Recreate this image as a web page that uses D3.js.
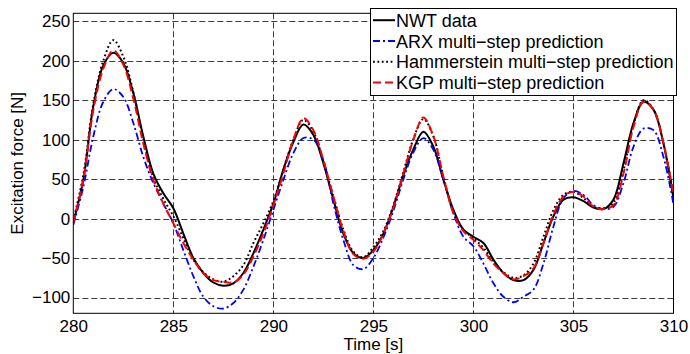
<!DOCTYPE html>
<html>
<head>
<meta charset="utf-8">
<script src="https://cdn.jsdelivr.net/npm/d3@7"></script>
<style>
  body { margin: 0; background: #fff; }
  #graph { width: 690px; height: 354px; }
  text { font-family: "Liberation Sans", Arial, sans-serif; fill: #000; }
</style>
</head>
<body>
<div id="graph"></div>
<script>
// tiempo [s], muestras cada 0.5 s
var time = [280, 280.5, 281, 281.5, 282, 282.5, 283, 283.5, 284, 284.5, 285, 285.5, 286, 286.5, 287, 287.5,
  288, 288.5, 289, 289.5, 290, 290.5, 291, 291.5, 292, 292.5, 293, 293.5, 294, 294.5, 295,
  295.5, 296, 296.5, 297, 297.5, 298, 298.5, 299, 299.5, 300, 300.5, 301, 301.5, 302, 302.5,
  303, 303.5, 304, 304.5, 305, 305.5, 306, 306.5, 307, 307.5, 308, 308.5, 309, 309.5, 310];

var nwt = [-5, 49, 142, 194, 210, 197, 159, 104, 57, 32, 13, -19, -50, -69, -81, -85,
  -82, -69, -44, -14, 19, 62, 97, 119, 106, 70, 24, -19, -44, -50, -40,
  -19, 15, 55, 88, 110, 91, 49, 11, -14, -23, -31, -52, -69, -78, -78,
  -65, -31, 3, 24, 27, 22, 14, 12, 24, 70, 121, 148, 138, 95, 25];

var arx = [-8, 40, 104, 148, 164, 154, 121, 78, 45, 19, -6, -40, -73, -99, -111, -114,
  -107, -90, -61, -27, 11, 49, 83, 102, 100, 74, 19, -27, -59, -64, -50,
  -24, 10, 50, 84, 102, 87, 49, 7, -23, -35, -57, -82, -99, -106, -99,
  -90, -57, -10, 26, 35, 30, 17, 12, 15, 45, 91, 114, 112, 78, 18];

var hammerstein = [-2, 55, 145, 200, 226, 205, 160, 100, 52, 25, 3, -25, -52, -68, -77, -80,
  -73, -59, -31, -6, 22, 62, 100, 125, 110, 72, 28, -14, -42, -49, -36,
  -16, 17, 59, 101, 126, 104, 53, 8, -14, -25, -37, -55, -68, -75, -72,
  -57, -23, 11, 30, 34, 26, 15, 13, 20, 61, 119, 150, 138, 95, 30];

var kgp = [-5, 50, 137, 190, 213, 195, 152, 95, 49, 19, -6, -31, -52, -69, -78, -80,
  -81, -71, -48, -19, 17, 57, 100, 127, 112, 74, 28, -16, -45, -51, -42,
  -19, 14, 57, 100, 128, 104, 53, 7, -16, -27, -40, -57, -69, -77, -73,
  -63, -31, 5, 28, 34, 28, 15, 12, 17, 57, 116, 148, 138, 95, 30];

var xTicks = [280, 285, 290, 295, 300, 305, 310];
var yTicks = [-100, -50, 0, 50, 100, 150, 200, 250];
var legendLabels = ["NWT data", "ARX multi\u2212step prediction", "Hammerstein multi\u2212step prediction", "KGP multi\u2212step prediction"];

var series = [
  {name: legendLabels[0], values: nwt, color: "#000", dash: null, width: 2},
  {name: legendLabels[1], values: arx, color: "#0000ff", dash: "7,3,2,3", width: 1.8},
  {name: legendLabels[2], values: hammerstein, color: "#000", dash: "1.8,2.6", width: 2},
  {name: legendLabels[3], values: kgp, color: "#ff0000", dash: "8,4", width: 2}
];

var width = 690, height = 354;
var pLeft = 73.3, pRight = 673.5, pTop = 13.3, pBottom = 313.3;

var svg = d3.select("#graph").append("svg")
  .attr("width", width)
  .attr("height", height)

var xScale = d3.scaleLinear().domain([280, 310]).range([pLeft, pRight]);
var yScale = d3.scaleLinear().domain([-120, 260]).range([pBottom, pTop]);

// rejilla
var grid = svg.append("g")
  .attr("stroke", "#3c3c3c")
  .attr("stroke-width", 1)
  .attr("stroke-dasharray", "6,3")

grid.selectAll(".vx").data(xTicks.slice(1, -1)).enter().append("line")
  .attr("x1", d => Math.round(xScale(d)) + 0.5)
  .attr("x2", d => Math.round(xScale(d)) + 0.5)
  .attr("y1", pTop).attr("y2", pBottom)

grid.selectAll(".hy").data(yTicks).enter().append("line")
  .attr("y1", d => Math.round(yScale(d)) + 0.5)
  .attr("y2", d => Math.round(yScale(d)) + 0.5)
  .attr("x1", pLeft).attr("x2", pRight)

svg.append("clipPath").attr("id", "clip")
  .append("rect")
  .attr("x", pLeft).attr("y", pTop)
  .attr("width", pRight - pLeft).attr("height", pBottom - pTop)

var line = d3.line()
  .x((d, i) => xScale(time[i]))
  .y(d => yScale(d))
  .curve(d3.curveCatmullRom.alpha(0.5))

var plot = svg.append("g").attr("clip-path", "url(#clip)")

series.forEach(function(s) {
  plot.append("path")
    .datum(s.values)
    .attr("d", line)
    .attr("fill", "none")
    .attr("stroke", s.color)
    .attr("stroke-width", s.width)
    .attr("stroke-dasharray", s.dash)
})

// marco
svg.append("rect")
  .attr("x", pLeft).attr("y", pTop)
  .attr("width", pRight - pLeft).attr("height", pBottom - pTop)
  .attr("fill", "none")
  .attr("stroke", "#000")
  .attr("stroke-width", 1)

// ejes
var xAxis = svg.append("g")
  .attr("transform", "translate(0," + pBottom + ")")
  .call(d3.axisBottom(xScale).tickValues(xTicks).tickSize(0).tickPadding(7).tickFormat(d3.format("d")))
xAxis.select(".domain").remove()
xAxis.selectAll("text").attr("font-size", 17).attr("font-family", "Liberation Sans, Arial, sans-serif")

var yAxis = svg.append("g")
  .attr("transform", "translate(" + pLeft + ",0)")
  .call(d3.axisLeft(yScale).tickValues(yTicks).tickSize(0).tickPadding(3)
    .tickFormat(d => d < 0 ? "\u2212" + Math.abs(d) : d))
yAxis.select(".domain").remove()
yAxis.selectAll("text").attr("font-size", 17).attr("font-family", "Liberation Sans, Arial, sans-serif")

svg.append("text")
  .attr("x", (pLeft + pRight) / 2)
  .attr("y", 350)
  .attr("text-anchor", "middle")
  .attr("font-size", 17)
  .text("Time [s]")

svg.append("text")
  .attr("transform", "translate(23," + ((pTop + pBottom) / 2) + ") rotate(-90)")
  .attr("text-anchor", "middle")
  .attr("font-size", 17)
  .text("Excitation force [N]")

// leyenda
var legend = svg.append("g")
legend.append("rect")
  .attr("x", 370.5).attr("y", 8.5)
  .attr("width", 306).attr("height", 87)
  .attr("fill", "#fff")
  .attr("stroke", "#000")

series.forEach(function(s, i) {
  var base = 26.7 + i * 20.8;
  legend.append("line")
    .attr("x1", 373).attr("x2", 395)
    .attr("y1", base - 6.5).attr("y2", base - 6.5)
    .attr("stroke", s.color)
    .attr("stroke-width", s.width)
    .attr("stroke-dasharray", s.dash)
  legend.append("text")
    .attr("x", 396).attr("y", base)
    .attr("font-size", 18)
    .text(s.name)
})
</script>
</body>
</html>
